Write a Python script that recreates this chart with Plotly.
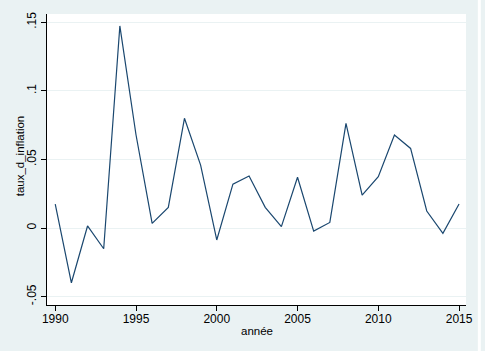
import plotly.graph_objects as go

years = list(range(1990, 2016))
inflation = [0.0175, -0.0399, 0.0015, -0.0151, 0.1473, 0.068, 0.0034, 0.015,
             0.080, 0.0459, -0.0087, 0.032, 0.0379, 0.0151, 0.001, 0.037,
             -0.0022, 0.0041, 0.0763, 0.024, 0.0374, 0.0678, 0.058, 0.0124,
             -0.0039, 0.0175]
x_ticks = [1990, 1995, 2000, 2005, 2010, 2015]
y_ticks = [-0.05, 0, 0.05, 0.1, 0.15]
y_tick_labels = ["-.05", "0", ".05", ".1", ".15"]

BG = "#EAF2F3"
FONT = "Liberation Sans, Arial, sans-serif"

# plot area in pixels: x 47..471, y 14..305
PW, PH = 424, 291

fig = go.Figure()
fig.add_trace(go.Scatter(x=years, y=inflation, mode="lines",
                         line=dict(color="#1A476F", width=1.2),
                         showlegend=False, hoverinfo="skip"))

fig.update_layout(
    width=485, height=351,
    margin=dict(l=47, r=14, t=14, b=46),
    paper_bgcolor=BG, plot_bgcolor="white",
    font=dict(family=FONT, size=12, color="black"),
    xaxis=dict(range=[1989.49, 2015.43], tickvals=x_ticks,
               ticks="outside", ticklen=5, tickcolor="black",
               ticklabelstandoff=-2,
               showline=True, linecolor="black", linewidth=1,
               showgrid=False, zeroline=False),
    yaxis=dict(range=[-0.0561, 0.156], tickvals=y_ticks, ticktext=y_tick_labels,
               tickangle=-90,
               ticks="outside", ticklen=5, tickcolor="black",
               showline=True, linecolor="black", linewidth=1,
               showgrid=True, gridcolor=BG, gridwidth=1, zeroline=False),
    annotations=[
        dict(text="année", xref="paper", yref="paper",
             x=(259 - 47) / PW, y=(305 - 331.5) / PH,
             xanchor="center", yanchor="middle", showarrow=False,
             font=dict(family=FONT, size=11.5)),
        dict(text="taux_d_inflation", xref="paper", yref="paper",
             x=(20 - 47) / PW, y=(305 - 156) / PH, textangle=-90,
             xanchor="center", yanchor="middle", showarrow=False,
             font=dict(family=FONT, size=11.5)),
    ],
    shapes=[dict(type="rect", xref="paper", yref="paper",
                 x0=(483 - 47) / PW, x1=(486 - 47) / PW, y0=-1, y1=2,
                 fillcolor="white", line=dict(width=0), layer="above")],
)

fig.write_html("out.html")
